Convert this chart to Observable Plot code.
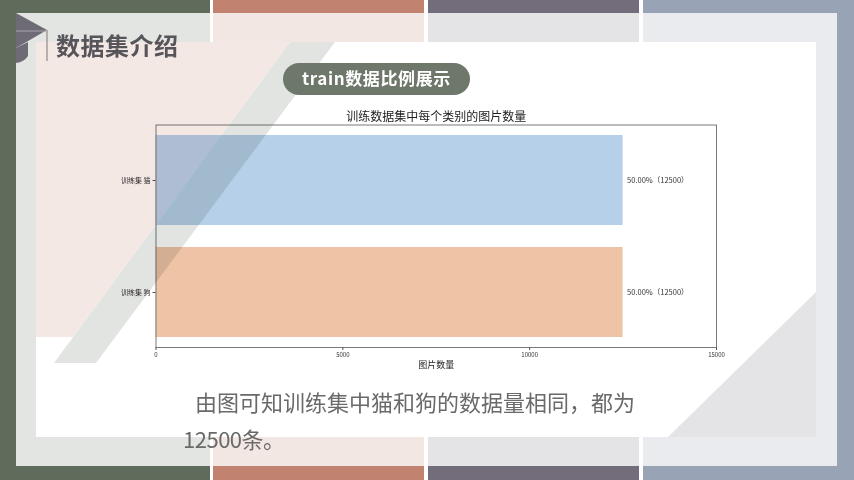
<!DOCTYPE html>
<html><head><meta charset="utf-8">
<script src="https://cdn.jsdelivr.net/npm/d3@7"></script>
<script src="https://cdn.jsdelivr.net/npm/@observablehq/plot@0.6"></script>
<style>
html,body{margin:0;padding:0;background:#fff;}
#stage{position:relative;width:854px;height:480px;overflow:hidden;background:#fff;font-family:"Noto Sans CJK SC","Noto Sans",sans-serif;}
.abs{position:absolute;left:0;top:0;}
</style></head><body>
<div id="stage">
<svg class="abs" id="bg" width="854" height="480">
  <rect x="0" y="0" width="854" height="480" fill="#fff"/>
  <rect x="0" y="0" width="210" height="13" fill="#5f6b5b"/>
  <rect x="213" y="0" width="211" height="13" fill="#c1826f"/>
  <rect x="428" y="0" width="211" height="13" fill="#726c7b"/>
  <rect x="643" y="0" width="211" height="13" fill="#98a3b5"/>
  <rect x="0" y="466" width="210" height="14" fill="#5f6b5b"/>
  <rect x="213" y="466" width="211" height="14" fill="#c1826f"/>
  <rect x="428" y="466" width="211" height="14" fill="#726c7b"/>
  <rect x="643" y="466" width="211" height="14" fill="#98a3b5"/>
  <rect x="0" y="0" width="16" height="480" fill="#5f6b5b"/>
  <rect x="837" y="0" width="17" height="480" fill="#98a3b5"/>
  <rect x="16" y="13" width="194" height="453" fill="#e2e5e1"/>
  <rect x="213" y="13" width="211" height="453" fill="#f3e7e4"/>
  <rect x="428" y="13" width="211" height="453" fill="#e4e4e7"/>
  <rect x="643" y="13" width="194" height="453" fill="#e9ebef"/>
  <rect x="36" y="42" width="780" height="395" fill="#fff"/>
  <polygon points="816,292 816,437 668,437" fill="#e4e4e6"/>
</svg>
<div class="abs" id="chart"></div>
<svg class="abs" id="ov" width="854" height="480" style="mix-blend-mode:multiply;pointer-events:none">
  <polygon points="36,42 290,42 73,337 36,337" fill="#f4e8e5"/>
  <polygon points="290,42 335,42 96,363 54,363" fill="#e2e4e1"/>
</svg>
<svg class="abs" id="fg" width="854" height="480" style="pointer-events:none">
  <polygon points="16,13 47,30 16,48" fill="#6e6b76"/>
  <line x1="16" y1="31" x2="46" y2="31" stroke="#a9a6ae" stroke-width="1"/>
  <path d="M16,48 L28,42 L28,56 Q24,62 16,63 Z" fill="#6e6b76"/>
  <line x1="47" y1="30" x2="47" y2="61" stroke="#a8999a" stroke-width="1.5"/>
  <text x="56" y="55" font-size="24" font-weight="700" fill="#57555a" letter-spacing="0.5">数据集介绍</text>
  <rect x="283" y="63" width="187" height="32" rx="16" fill="#6d776a"/>
  <text x="376.5" y="85" font-size="17" font-weight="700" fill="#fff" text-anchor="middle" letter-spacing="0.6">train数据比例展示</text>
  <text x="195" y="411" font-size="22" fill="#6a6a6a">由图可知训练集中猫和狗的数据量相同，都为</text>
  <text x="183" y="448" font-size="22" fill="#6a6a6a" letter-spacing="-0.5">12500条。</text>
</svg>
</div>
<script>
const categories = ["训练集 猫", "训练集 狗"];
const counts = [12500, 12500];
const percents = [50.00, 50.00];
const xTicks = [0, 5000, 10000, 15000];
const barColors = ["#b6d0ea", "#efc3a5"];
const chartTitle = "训练数据集中每个类别的图片数量";
const xLabel = "图片数量";

const data = categories.map((c, i) => ({category: c, count: counts[i], pct: percents[i], color: barColors[i]}));

const chart = Plot.plot({
  width: 854,
  height: 480,
  marginLeft: 155.5,
  marginRight: 138,
  marginTop: 124.5,
  marginBottom: 133,
  style: {background: "transparent", fontFamily: "'Noto Sans CJK SC', sans-serif", color: "#333", overflow: "visible"},
  x: {domain: [0, 15000]},
  y: {domain: categories, paddingInner: 0.2, paddingOuter: 0.09},
  marks: [
    Plot.barX(data, {y: "category", x: "count", fill: "color"}),
    Plot.frame({stroke: "#7a7a7a", strokeWidth: 1}),
    Plot.axisX({ticks: xTicks, tickFormat: d => String(d), tickSize: 3, tickPadding: 2, fontSize: 6, label: null, stroke: "#555"}),
    Plot.axisY({tickSize: 3, tickPadding: 2.5, fontSize: 7, label: null, stroke: "#555"}),
    Plot.text(data, {y: "category", x: "count", text: d => `${d.pct.toFixed(2)}%（${d.count}）`, textAnchor: "start", dx: 4, fontSize: 7.5, fill: "#333"}),
    Plot.text([chartTitle], {frameAnchor: "top", dy: -7.5, lineAnchor: "middle", fontSize: 12, fill: "#222"}),
    Plot.text([xLabel], {frameAnchor: "bottom", dy: 18, lineAnchor: "middle", fontSize: 9, fill: "#222"})
  ]
});
document.getElementById("chart").appendChild(chart);
</script>
</body></html>
